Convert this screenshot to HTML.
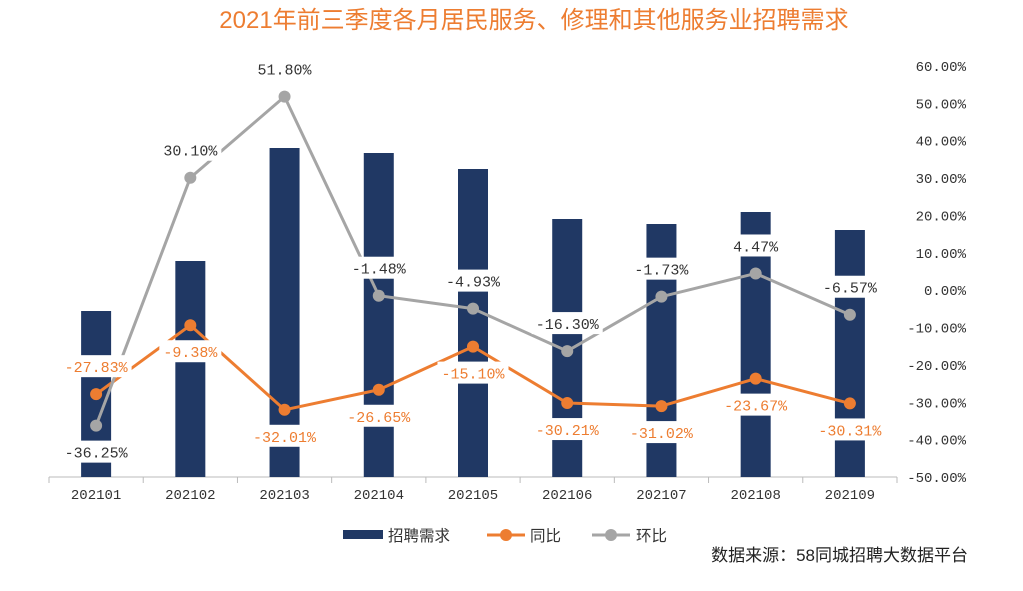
<!DOCTYPE html>
<html><head><meta charset="utf-8">
<style>
html,body{margin:0;padding:0;background:#fff;}
svg{display:block;}
.t{font-family:"Liberation Sans","Noto Sans CJK SC",sans-serif;}
.m{font-family:"Liberation Mono","Noto Sans CJK SC",monospace;font-size:14px;}
.d{font-family:"Liberation Mono","Noto Sans CJK SC",monospace;font-size:15px;}
</style></head>
<body>
<svg id="chart" width="1023" height="591">
<text class="t" x="534" y="28" text-anchor="middle" font-size="24" fill="#ED7D31">2021年前三季度各月居民服务、修理和其他服务业招聘需求</text>
<g id="plot"></g>
<g>
<rect x="343" y="530" width="40" height="9" fill="#203864"/>
<text class="t" x="388" y="541" font-size="15.5" fill="#333">招聘需求</text>
<line x1="487" y1="535" x2="525" y2="535" stroke="#ED7D31" stroke-width="3"/>
<circle cx="506" cy="535" r="6" fill="#ED7D31"/>
<text class="t" x="530" y="541" font-size="15.5" fill="#333">同比</text>
<line x1="592" y1="535" x2="630" y2="535" stroke="#A5A5A5" stroke-width="3"/>
<circle cx="611" cy="535" r="6" fill="#A5A5A5"/>
<text class="t" x="636" y="541" font-size="15.5" fill="#333">环比</text>
</g>
<text class="t" x="968" y="561" text-anchor="end" font-size="17" fill="#222">数据来源：58同城招聘大数据平台</text>
</svg>
<script>
const categories=["202101","202102","202103","202104","202105","202106","202107","202108","202109"];
const demand=[166,216,329,324,308,258,253,265,247];
const yoy=[-27.83,-9.38,-32.01,-26.65,-15.10,-30.21,-31.02,-23.67,-30.31];
const mom=[-36.25,30.10,51.80,-1.48,-4.93,-16.30,-1.73,4.47,-6.57];
const rightTicks=[60,50,40,30,20,10,0,-10,-20,-30,-40,-50];
const yoyLabelPos=["above","below","below","below","below","below","below","below","below"];
const momLabelPos=["below","above","above","above","above","above","above","above","above"];

const NS="http://www.w3.org/2000/svg";
const plot=document.getElementById('plot');
const X0=49,X1=897,YT=66,YB=477;
const step=(X1-X0)/categories.length;
const xc=i=>X0+step*(i+0.5);
const yR=v=>YT+(60-v)/110*(YB-YT);
const yL=v=>YB-v/411*(YB-YT);
function mk(tag,attrs,parent){const e=document.createElementNS(NS,tag);for(const k in attrs)e.setAttribute(k,attrs[k]);(parent||plot).appendChild(e);return e;}
function fmt(v){return v.toFixed(2)+"%";}

rightTicks.forEach(t=>{
 const e=mk('text',{x:966,y:yR(t)+5,'text-anchor':'end',class:'m',fill:'#333'});
 e.textContent=t.toFixed(2)+"%";
 
 
});
const ax=mk('line',{x1:X0,y1:YB,x2:X1,y2:YB,stroke:'#bbb','stroke-width':1});


for(let i=0;i<=categories.length;i++){
 const tk=mk('line',{x1:X0+step*i,y1:YB,x2:X0+step*i,y2:YB+6,stroke:'#bbb'});
 
 
}
categories.forEach((c,i)=>{
 const e=mk('text',{x:xc(i),y:YB+22,'text-anchor':'middle',class:'m',fill:'#333'});
 e.textContent=c;
 
 
 const b=mk('rect',{x:xc(i)-15,y:yL(demand[i]),width:30,height:YB-yL(demand[i]),fill:'#203864'});
 
 
});
function series(vals,color,name){
 const pts=vals.map((v,i)=>xc(i)+","+yR(v)).join(" ");
 const l=mk('polyline',{points:pts,fill:'none',stroke:color,'stroke-width':3,'stroke-linejoin':'round'});
 
 
 vals.forEach((v,i)=>{
  const c=mk('circle',{cx:xc(i),cy:yR(v),r:6,fill:color});
  
  
 });
}
series(yoy,'#ED7D31','yoy');
series(mom,'#A5A5A5','mom');
function labels(vals,pos,color,name){
 vals.forEach((v,i)=>{
  const y=yR(v)+(pos[i]==="above"?-27:27);
  const s=fmt(v);const w=s.length*9+8;
  const r=mk('rect',{x:xc(i)-w/2,y:y-12,width:w,height:22,fill:'#fff'});
  
  
  const t=mk('text',{x:xc(i),y:y+5,'text-anchor':'middle',class:'d',fill:color});
  t.textContent=s;
  
  
 });
}
labels(yoy,yoyLabelPos,'#ED7D31','yoy');
labels(mom,momLabelPos,'#333','mom');
</script>
</body></html>
